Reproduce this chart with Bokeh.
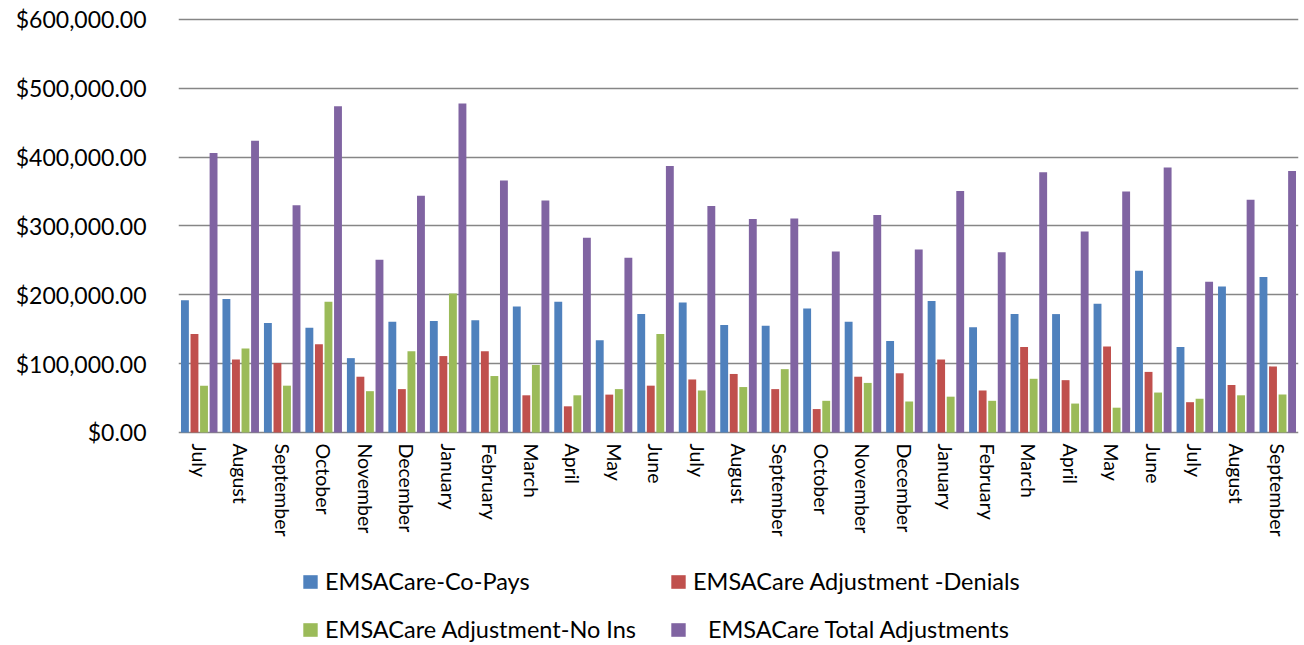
import math
from bokeh.plotting import figure
from bokeh.models import (ColumnDataSource, FixedTicker, NumeralTickFormatter,
                          Legend, LegendItem, Range1d)
from bokeh.core.properties import value
from bokeh.transform import dodge
from bokeh.embed import file_html
from bokeh.resources import INLINE

months = ["July", "August", "September", "October", "November", "December",
          "January", "February", "March", "April", "May", "June",
          "July", "August", "September", "October", "November", "December",
          "January", "February", "March", "April", "May", "June",
          "July", "August", "September"]

co_pays = [192000, 194000, 159000, 152000, 108000, 161000, 162000, 163000, 183000,
           190000, 134000, 172000, 189000, 156000, 155000, 180000, 161000, 133000,
           191000, 153000, 172000, 172000, 187000, 235000, 124000, 212000, 226000]

denials = [143000, 106000, 101000, 128000, 81000, 63000, 111000, 118000, 54000,
           38000, 55000, 68000, 77000, 85000, 63000, 34000, 81000, 86000,
           106000, 61000, 124000, 76000, 125000, 88000, 44000, 69000, 96000]

no_ins = [68000, 122000, 68000, 190000, 60000, 118000, 202000, 82000, 98000,
          54000, 63000, 143000, 61000, 66000, 92000, 46000, 72000, 45000,
          52000, 46000, 78000, 42000, 36000, 58000, 49000, 54000, 55000]

total = [406000, 424000, 330000, 474000, 251000, 344000, 478000, 366000, 337000,
         283000, 254000, 387000, 329000, 310000, 311000, 263000, 316000, 266000,
         351000, 262000, 378000, 292000, 350000, 385000, 219000, 338000, 380000]

y_ticks = [0, 100000, 200000, 300000, 400000, 500000, 600000]

series_names = ["EMSACare-Co-Pays", "EMSACare Adjustment -Denials",
                "EMSACare Adjustment-No Ins",
                "\u00a0\u00a0\u2009EMSACare Total Adjustments"]
colors = ["#4F81BD", "#C0504D", "#9BBB59", "#8064A2"]

idx = list(range(len(months)))
source = ColumnDataSource(dict(idx=idx, month=months, base=[0] * len(months),
                               co_pays=co_pays, denials=denials,
                               no_ins=no_ins, total=total))

p = figure(output_backend="svg", toolbar_location=None,
           frame_width=1120, frame_height=628,
           min_border_left=178, min_border_right=2, min_border_top=17,
           min_border_bottom=0, x_axis_location=None,
           x_range=Range1d(-0.5, len(months) - 0.5),
           y_range=Range1d(-309500, 602900))

offsets = [-0.345, -0.115, 0.115, 0.345]
fields = ["co_pays", "denials", "no_ins", "total"]
renderers = []
for f, off, c in zip(fields, offsets, colors):
    r = p.vbar(x=dodge("idx", off), top=f, width=0.19, source=source,
               fill_color=c, line_color=None)
    renderers.append(r)

# category labels under the zero line
p.text(x="idx", y="base", text="month", source=source, angle=-math.pi / 2,
       text_align="left", text_baseline="middle", y_offset=11,
       text_font=value("Lato"), text_font_size="19.5px", text_color="black")

p.outline_line_color = None
p.background_fill_color = "white"
p.border_fill_color = "white"

p.xgrid.grid_line_color = None
p.ygrid.grid_line_color = "#868686"
p.ygrid.grid_line_width = 1.5
p.ygrid.ticker = FixedTicker(ticks=y_ticks)

p.yaxis.ticker = FixedTicker(ticks=y_ticks)
p.yaxis.formatter = NumeralTickFormatter(format="$0,0.00")
p.yaxis.axis_line_color = None
p.yaxis.major_tick_line_color = None
p.yaxis.minor_tick_line_color = None
p.yaxis.major_label_text_font = "Lato"
p.yaxis.major_label_text_font_size = "23px"
p.yaxis.major_label_text_color = "black"
p.yaxis.major_label_standoff = 26

# column-major filling: order items so rows read Co-Pays/Denials, No Ins/Total
order = [0, 2, 1, 3]
legend = Legend(items=[LegendItem(label=series_names[i], renderers=[renderers[i]]) for i in order],
                ncols=2, location=(123, 2), orientation="vertical")
legend.label_text_font = "Lato"
legend.label_text_font_size = "23.5px"
legend.label_text_color = "black"
legend.label_width = 324
legend.glyph_width = 18
legend.glyph_height = 17
legend.label_standoff = 6
legend.spacing = 20
legend.padding = 0
legend.margin = 0
legend.border_line_color = None
legend.background_fill_alpha = 0
p.add_layout(legend, "center")

open("out.html", "w").write(file_html(p, INLINE))
